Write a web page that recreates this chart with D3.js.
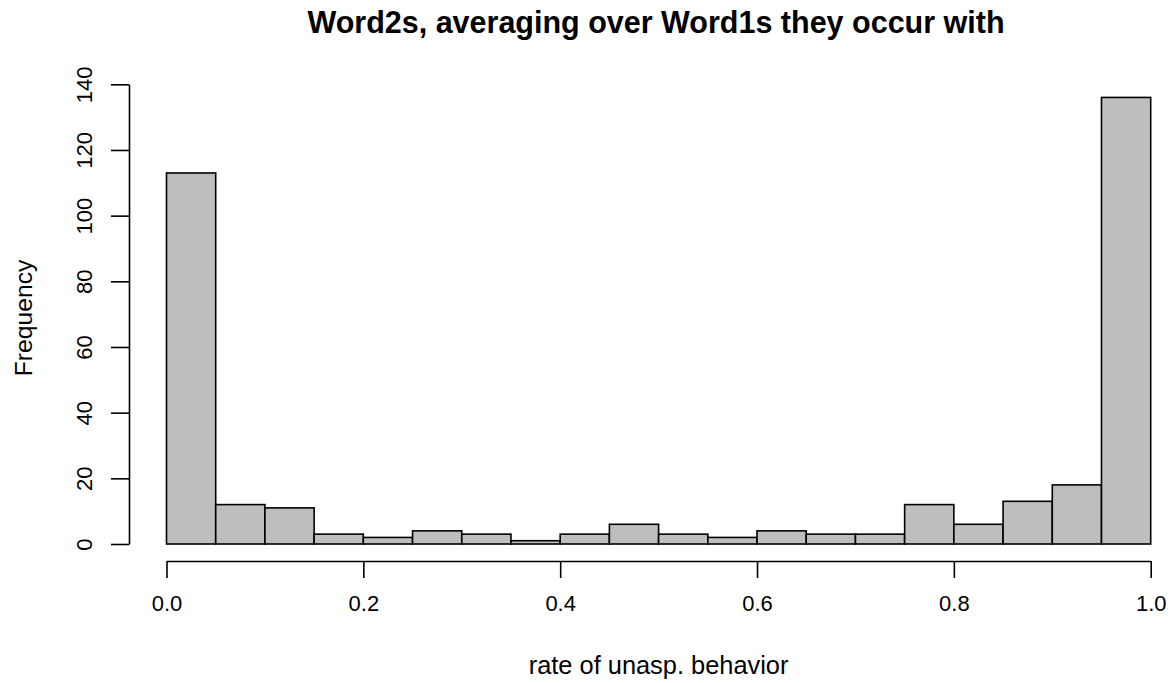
<!DOCTYPE html>
<html>
<head>
<meta charset="utf-8">
<script src="https://cdn.jsdelivr.net/npm/d3@7"></script>
<style>
  html, body { margin: 0; padding: 0; background: #fff; }
  svg { display: block; }
  text { font-family: "Liberation Sans", Arial, sans-serif; fill: #000; }
</style>
</head>
<body>
<svg id="chart" width="1172" height="683"></svg>
<script>
// Histogram bins (lower edges), width 0.05 over [0, 1]
const binStarts = [0.00, 0.05, 0.10, 0.15, 0.20, 0.25, 0.30, 0.35, 0.40, 0.45,
                   0.50, 0.55, 0.60, 0.65, 0.70, 0.75, 0.80, 0.85, 0.90, 0.95];
const binWidth = 0.05;
const counts = [113, 12, 11, 3, 2, 4, 3, 1, 3, 6,
                3, 2, 4, 3, 3, 12, 6, 13, 18, 136];

const xTicks = [0.0, 0.2, 0.4, 0.6, 0.8, 1.0];
const yTicks = [0, 20, 40, 60, 80, 100, 120, 140];

const titleText = "Word2s, averaging over Word1s they occur with";
const xLabel = "rate of unasp. behavior";
const yLabel = "Frequency";

const svg = d3.select("#chart");

const x = d3.scaleLinear().domain([0, 1]).range([166.5, 1150.7]);
const y = d3.scaleLinear().domain([0, 140]).range([544, 84.3]);

// bars
svg.append("g")
  .selectAll("rect")
  .data(binStarts.map((b, i) => ({ x0: b, x1: b + binWidth, n: counts[i] })))
  .join("rect")
  .attr("x", d => x(d.x0))
  .attr("y", d => y(d.n))
  .attr("width", d => x(d.x1) - x(d.x0))
  .attr("height", d => y(0) - y(d.n))
  .attr("fill", "#bebebe")
  .attr("stroke", "#000")
  .attr("stroke-width", 1.6);

// x axis, offset below the bars
const xAxis = d3.axisBottom(x)
  .tickValues(xTicks)
  .tickFormat(d3.format(".1f"))
  .tickSize(17)
  .tickSizeOuter(0)
  .tickPadding(17);
const gx = svg.append("g").attr("transform", "translate(0,561)").call(xAxis);
gx.select(".domain").attr("stroke-width", 1.6);
gx.selectAll(".tick line").attr("stroke-width", 1.6);
gx.selectAll(".tick text").attr("font-size", 22).style("font-family", "'Liberation Sans', Arial, sans-serif");

// y axis, offset left of the bars, labels rotated
const yAxis = d3.axisLeft(y)
  .tickValues(yTicks)
  .tickSize(18)
  .tickSizeOuter(0)
  .tickPadding(0);
const gy = svg.append("g").attr("transform", "translate(129,0)").call(yAxis);
gy.select(".domain").attr("stroke-width", 1.6);
gy.selectAll(".tick line").attr("stroke-width", 1.6);
gy.selectAll(".tick text")
  .attr("font-size", 22)
  .style("font-family", "'Liberation Sans', Arial, sans-serif")
  .attr("x", null).attr("dy", null)
  .attr("text-anchor", "middle")
  .attr("transform", "translate(-37,0) rotate(-90)");

// titles
svg.append("text")
  .attr("x", 656).attr("y", 33)
  .attr("text-anchor", "middle")
  .attr("font-size", 30.5)
  .attr("font-weight", "bold")
  .text(titleText);

svg.append("text")
  .attr("x", 658.6).attr("y", 674)
  .attr("text-anchor", "middle")
  .attr("font-size", 25.4)
  .text(xLabel);

svg.append("text")
  .attr("transform", "translate(32,318) rotate(-90)")
  .attr("text-anchor", "middle")
  .attr("font-size", 24.7)
  .text(yLabel);
</script>
</body>
</html>
